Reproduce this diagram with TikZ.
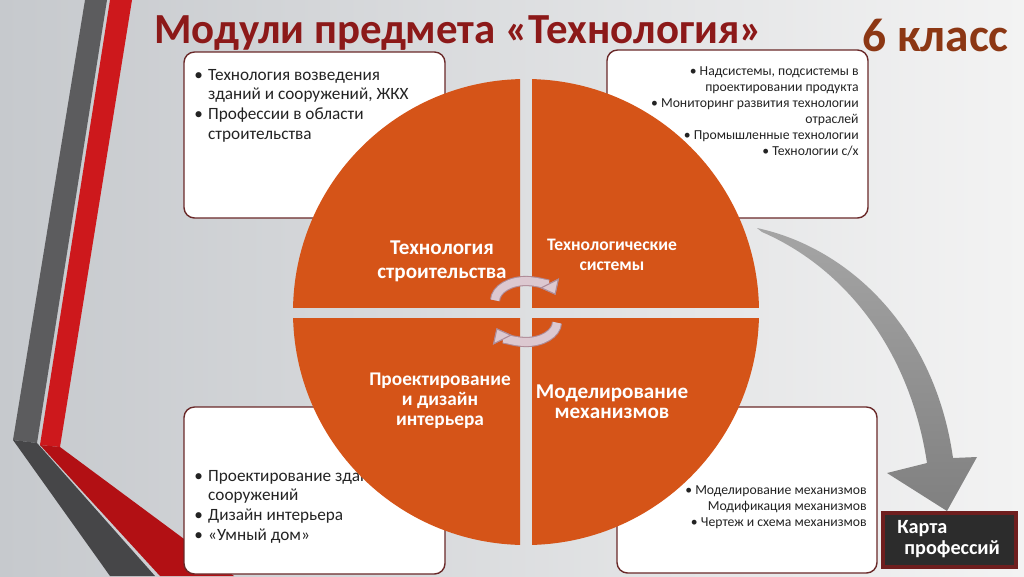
\documentclass[tikz,border=0pt]{standalone}
\usepackage{fontspec}
\setmainfont{Carlito}
\usetikzlibrary{arrows.meta}
\definecolor{bgL}{RGB}{198,201,205}
\definecolor{bgR}{RGB}{243,243,243}
\definecolor{greyA}{RGB}{92,92,94}
\definecolor{greyB}{RGB}{70,70,72}
\definecolor{redA}{RGB}{205,24,28}
\definecolor{redB}{RGB}{178,16,20}
\definecolor{quad}{RGB}{213,84,24}
\definecolor{boxline}{RGB}{105,40,40}
\definecolor{titlered}{RGB}{140,25,25}
\definecolor{titlebrown}{RGB}{140,55,20}
\definecolor{cyclefill}{RGB}{220,200,208}
\definecolor{cycleline}{RGB}{175,140,152}
\definecolor{arrowA}{RGB}{165,165,165}
\definecolor{arrowB}{RGB}{128,128,128}
\definecolor{cardfill}{RGB}{44,44,44}
\definecolor{cardline}{RGB}{110,30,30}
\definecolor{bodytext}{RGB}{35,35,35}
\begin{document}
\begin{tikzpicture}[x=0.02cm,y=-0.02cm,
  modbox/.style={draw=boxline, line width=0.8pt, fill=white, rounded corners=6pt},
  bigtext/.style={inner sep=0pt, text=bodytext, align=left, font=\fontsize{9.8}{11.2}\selectfont},
  smalltext/.style={inner sep=0pt, text=bodytext, align=right, font=\fontsize{7.8}{9.1}\selectfont},
  quadtext/.style={inner sep=0pt, text=white, align=center},
  cyctipA/.style={-{Triangle[width=12pt,length=7.5pt,color=cycleline,fill=cycleline,line width=0.6pt]}},
  cyctipB/.style={-{Triangle[width=12pt,length=7.5pt,color=cycleline,fill=cyclefill,line width=0.6pt]}},
]
\useasboundingbox (0,0) rectangle (1024,576);
\shade[left color=bgL, right color=bgR] (0,0) rectangle (1024,576);

% left decorative stripes
\fill[greyA] (85,0) -- (107,0) -- (37,443) -- (13,440) -- cycle;
\fill[greyB] (13,440) -- (37,443) -- (155,576) -- (110,576) -- cycle;
\fill[redA] (110,0) -- (132,0) -- (60,447) -- (40,445) -- cycle;
\fill[redB] (40,445) -- (60,447) -- (234,576) -- (160,576) -- cycle;

% module boxes
\draw[modbox] (184,52) rectangle (445,218);
\draw[modbox] (607,50) rectangle (868,218);
\draw[modbox] (184,407) rectangle (445,574);
\draw[modbox] (617,407) rectangle (877,573);

% box texts
\node[bigtext, anchor=north west] (tl) at (194,66) {%
\begin{tabular}{@{}l@{\hspace{3pt}}l@{}}
\textbullet & Технология возведения\\
 & зданий и сооружений, ЖКХ\\
\textbullet & Профессии в области\\
 & строительства
\end{tabular}};
\node[smalltext, anchor=north east] (tr) at (859,66) {%
\textbullet\ Надсистемы, подсистемы в\\
проектировании продукта\\
\textbullet\ Мониторинг развития технологии\\
отраслей\\
\textbullet\ Промышленные технологии\\
\textbullet\ Технологии с/х};
\node[bigtext, anchor=north west] (bl) at (194,467) {%
\begin{tabular}{@{}l@{\hspace{3pt}}l@{}}
\textbullet & Проектирование зданий и\\
 & сооружений\\
\textbullet & Дизайн интерьера\\
\textbullet & «Умный дом»
\end{tabular}};
\node[smalltext, anchor=north east] (br) at (867,485) {%
\textbullet\ Моделирование механизмов\\
Модификация механизмов\\
\textbullet\ Чертеж и схема механизмов};

% circle quadrants
\begin{scope}
\clip (0,0) rectangle (520,307);
\fill[quad] (526,312) circle[radius=233];
\end{scope}
\begin{scope}
\clip (532,0) rectangle (1024,307);
\fill[quad] (526,312) circle[radius=233];
\end{scope}
\begin{scope}
\clip (0,318) rectangle (520,576);
\fill[quad] (526,312) circle[radius=233];
\end{scope}
\begin{scope}
\clip (532,318) rectangle (1024,576);
\fill[quad] (526,312) circle[radius=233];
\end{scope}

% quadrant labels
\node[quadtext, font=\bfseries\fontsize{12}{13.6}\selectfont] (q1) at (442,261) {Технология\\строительства};
\node[quadtext, font=\bfseries\fontsize{10}{11.4}\selectfont] (q2) at (612,255) {Технологические\\системы};
\node[quadtext, font=\bfseries\fontsize{11}{11.4}\selectfont] (q3) at (440,401) {Проектирование\\и дизайн\\интерьера};
\node[quadtext, font=\bfseries\fontsize{12}{11.6}\selectfont] (q4) at (612,402) {Моделирование\\механизмов};

% cycle arrows
\coordinate (cA) at (526,301);
\coordinate (cB) at (526,322);
\draw[cycleline, line width=5.8pt, cyctipA] ([shift={(-178:31 and 20)}]cA) arc[start angle=-178, end angle=-18, x radius=31, y radius=20];
\draw[cyclefill, line width=4.6pt, cyctipB] ([shift={(-178:31 and 20)}]cA) arc[start angle=-178, end angle=-18, x radius=31, y radius=20];
\draw[cycleline, line width=5.8pt, cyctipA] ([shift={(2:31 and 20)}]cB) arc[start angle=2, end angle=162, x radius=31, y radius=20];
\draw[cyclefill, line width=4.6pt, cyctipB] ([shift={(2:31 and 20)}]cB) arc[start angle=2, end angle=162, x radius=31, y radius=20];

% big grey arrow
\coordinate (arrtail) at (757,228);
\shade[top color=arrowA, bottom color=arrowB]
  (arrtail) .. controls (850,248) and (935,330) .. (953,458)
  -- (977,457) -- (947,511) -- (887,473) -- (927,463)
  .. controls (910,350) and (845,268) .. (762,232) -- cycle;

% career map card
\draw[cardline, line width=2pt, fill=cardfill] (883,513) rectangle (1016,567);
\node[inner sep=0pt, text=white, align=left, anchor=north west, font=\bfseries\fontsize{11.5}{12}\selectfont] (card) at (897,520) {Карта\\\hspace*{4pt}профессий};

% titles
\node[inner sep=0pt, anchor=west, text=titlered, font=\bfseries\fontsize{24.4}{28}\selectfont] (title) at (154,33) {Модули предмета «Технология»};
\node[inner sep=0pt, anchor=east, text=titlebrown, font=\bfseries\fontsize{27}{30}\selectfont] (grade) at (1009,35) {6 класс};
\end{tikzpicture}
\end{document}
